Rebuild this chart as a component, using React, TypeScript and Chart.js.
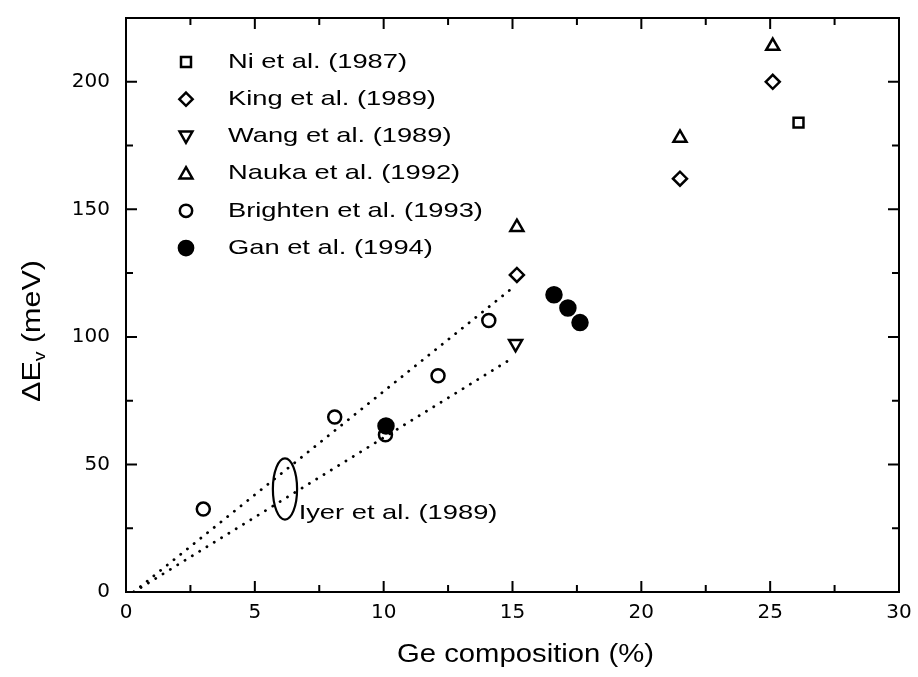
import React, { useEffect, useRef } from 'react';
import { Chart, registerables } from 'chart.js';

Chart.register(...registerables);

// ---- data ----
const xMajor = [0, 5, 10, 15, 20, 25, 30];
const xMinor = [2.5, 7.5, 12.5, 17.5, 22.5, 27.5];
const yMajor = [0, 50, 100, 150, 200];
const yMinor = [25, 75, 125, 175, 225];

const niX = [26.1];
const niY = [184];
const kingX = [15.17, 21.5, 25.1];
const kingY = [124.3, 162, 200];
const wangX = [15.12];
const wangY = [97.3];
const naukaX = [15.17, 21.5, 25.1];
const naukaY = [143, 178, 214];
const brightenX = [3.0, 8.1, 10.07, 12.11, 14.08];
const brightenY = [32.5, 68.6, 61.6, 84.8, 106.4];
const ganX = [10.09, 16.61, 17.15, 17.62];
const ganY = [65.1, 116.5, 111.3, 105.6];

const iyerUpperX = [0.3, 15.05];
const iyerUpperY = [0, 119.6];
const iyerLowerX = [0.3, 15.05];
const iyerLowerY = [0, 92];
const iyerEllipseCenter = [6.17, 40.4];
const iyerEllipseRadii = [0.47, 12];
const iyerLabel = 'Iyer et al. (1989)';
const iyerLabelPos = [6.7, 31];

const xTitle = 'Ge composition (%)';

const pts = (xs: number[], ys: number[]) => xs.map((x, i) => ({ x, y: ys[i] }));

type Series = { label: string; xs: number[]; ys: number[]; style: string; rotation: number; filled: boolean; radius: number };
const series: Series[] = [
  { label: 'Ni et al. (1987)', xs: niX, ys: niY, style: 'rect', rotation: 0, filled: false, radius: 7 },
  { label: 'King et al. (1989)', xs: kingX, ys: kingY, style: 'rectRot', rotation: 0, filled: false, radius: 7 },
  { label: 'Wang et al. (1989)', xs: wangX, ys: wangY, style: 'triangle', rotation: 180, filled: false, radius: 7.5 },
  { label: 'Nauka et al. (1992)', xs: naukaX, ys: naukaY, style: 'triangle', rotation: 0, filled: false, radius: 7.5 },
  { label: 'Brighten et al. (1993)', xs: brightenX, ys: brightenY, style: 'circle', rotation: 0, filled: false, radius: 6.5 },
  { label: 'Gan et al. (1994)', xs: ganX, ys: ganY, style: 'circle', rotation: 0, filled: true, radius: 7.5 },
];

const INK = '#000';
const TEXT_FONT = '21px "Liberation Sans", Arial, sans-serif';

function drawMarker(ctx: CanvasRenderingContext2D, s: Series, x: number, y: number, r: number) {
  ctx.save();
  ctx.translate(x, y);
  ctx.rotate((s.rotation * Math.PI) / 180);
  ctx.beginPath();
  if (s.style === 'circle') {
    ctx.arc(0, 0, r, 0, Math.PI * 2);
  } else if (s.style === 'rect') {
    const h = r * 0.75;
    ctx.rect(-h, -h, 2 * h, 2 * h);
  } else if (s.style === 'rectRot') {
    ctx.moveTo(0, -r);
    ctx.lineTo(r, 0);
    ctx.lineTo(0, r);
    ctx.lineTo(-r, 0);
    ctx.closePath();
  } else if (s.style === 'triangle') {
    const h = r * 0.9;
    ctx.moveTo(0, -h);
    ctx.lineTo(h, h * 0.75);
    ctx.lineTo(-h, h * 0.75);
    ctx.closePath();
  }
  ctx.lineWidth = 2.5;
  ctx.strokeStyle = INK;
  if (s.filled) {
    ctx.fillStyle = INK;
    ctx.fill();
  }
  ctx.stroke();
  ctx.restore();
}

function stretchedText(ctx: CanvasRenderingContext2D, text: string, x: number, y: number, sx: number, align: CanvasTextAlign, font: string) {
  ctx.save();
  ctx.translate(x, y);
  ctx.scale(sx, 1);
  ctx.font = font;
  ctx.fillStyle = INK;
  ctx.textAlign = align;
  ctx.textBaseline = 'middle';
  ctx.fillText(text, 0, 0);
  ctx.restore();
}

const decorPlugin = {
  id: 'decor',
  afterDraw(chart: any) {
    const ctx: CanvasRenderingContext2D = chart.ctx;
    const xs = chart.scales.x;
    const ys = chart.scales.y;
    const a = chart.chartArea;

    // frame
    ctx.save();
    ctx.strokeStyle = INK;
    ctx.lineWidth = 2;
    ctx.strokeRect(a.left, a.top, a.right - a.left, a.bottom - a.top);

    // inward ticks on all four sides
    const tick = (vals: number[], len: number) => {
      vals.forEach((v) => {
        const px = xs.getPixelForValue(v);
        ctx.beginPath();
        ctx.moveTo(px, a.bottom);
        ctx.lineTo(px, a.bottom - len);
        ctx.moveTo(px, a.top);
        ctx.lineTo(px, a.top + len);
        ctx.stroke();
      });
    };
    const ytick = (vals: number[], len: number) => {
      vals.forEach((v) => {
        const py = ys.getPixelForValue(v);
        ctx.beginPath();
        ctx.moveTo(a.left, py);
        ctx.lineTo(a.left + len, py);
        ctx.moveTo(a.right, py);
        ctx.lineTo(a.right - len, py);
        ctx.stroke();
      });
    };
    ctx.lineWidth = 2;
    tick(xMajor, 11);
    tick(xMinor, 7);
    ytick(yMajor, 11);
    ytick(yMinor, 7);
    ctx.restore();

    // Iyer ellipse
    const ecx = xs.getPixelForValue(iyerEllipseCenter[0]);
    const ecy = ys.getPixelForValue(iyerEllipseCenter[1]);
    const erx = Math.abs(xs.getPixelForValue(iyerEllipseCenter[0] + iyerEllipseRadii[0]) - ecx);
    const ery = Math.abs(ys.getPixelForValue(iyerEllipseCenter[1] + iyerEllipseRadii[1]) - ecy);
    ctx.save();
    ctx.beginPath();
    ctx.ellipse(ecx, ecy, erx, ery, 0, 0, Math.PI * 2);
    ctx.strokeStyle = INK;
    ctx.lineWidth = 2.2;
    ctx.stroke();
    ctx.restore();

    stretchedText(ctx, iyerLabel, xs.getPixelForValue(iyerLabelPos[0]), ys.getPixelForValue(iyerLabelPos[1]), 1.3, 'left', TEXT_FONT);

    // legend
    const lx = a.left + 60;
    const tx = a.left + 102;
    const ly0 = a.top + 44;
    const dy = 37.2;
    series.forEach((s, i) => {
      const y = ly0 + i * dy;
      drawMarker(ctx, s, lx, y, s.radius * 0.95);
      stretchedText(ctx, s.label, tx, y, 1.3, 'left', TEXT_FONT);
    });

    // x title
    stretchedText(ctx, xTitle, (a.left + a.right) / 2 + 13, 655, 1.17, 'center', '25px "Liberation Sans", Arial, sans-serif');

    // y title: ΔE_v (meV), rotated
    ctx.save();
    ctx.translate(33, 331);
    ctx.rotate(-Math.PI / 2);
    ctx.scale(1.22, 1);
    ctx.fillStyle = INK;
    ctx.textBaseline = 'middle';
    ctx.textAlign = 'left';
    const big = '25px "Liberation Sans", Arial, sans-serif';
    const small = '16px "Liberation Sans", Arial, sans-serif';
    ctx.font = big;
    const w1 = ctx.measureText('ΔE').width;
    ctx.font = small;
    const w2 = ctx.measureText('v').width;
    ctx.font = big;
    const w3 = ctx.measureText(' (meV)').width;
    const total = w1 + w2 + w3;
    let cx = -total / 2;
    ctx.fillText('ΔE', cx, 0);
    cx += w1;
    ctx.font = small;
    ctx.fillText('v', cx, 8);
    cx += w2;
    ctx.font = big;
    ctx.fillText(' (meV)', cx, 0);
    ctx.restore();
  },
};

export default function App() {
  const ref = useRef<HTMLCanvasElement | null>(null);
  useEffect(() => {
    if (!ref.current) return;
    const tickFont = { family: '"DejaVu Sans", sans-serif', size: 20 };
    const chart = new Chart(ref.current, {
      type: 'scatter',
      data: {
        datasets: [
          {
            label: 'upper',
            data: pts(iyerUpperX, iyerUpperY),
            showLine: true,
            borderColor: INK,
            borderWidth: 2.8,
            borderDash: [0.1, 8.5],
            borderCapStyle: 'round',
            pointRadius: 0,
            fill: false,
          } as any,
          {
            label: 'lower',
            data: pts(iyerLowerX, iyerLowerY),
            showLine: true,
            borderColor: INK,
            borderWidth: 2.8,
            borderDash: [0.1, 8.5],
            borderCapStyle: 'round',
            pointRadius: 0,
            fill: false,
          } as any,
          ...series.map((s) => ({
            label: s.label,
            data: pts(s.xs, s.ys),
            pointStyle: s.style,
            rotation: s.rotation,
            pointRadius: s.radius,
            pointBorderWidth: 2.5,
            borderColor: INK,
            backgroundColor: s.filled ? INK : 'rgba(255,255,255,0)',
            showLine: false,
          })),
        ],
      },
      options: {
        responsive: false,
        animation: false,
        layout: { padding: { left: 0, top: 18, right: 19, bottom: 0 } },
        plugins: { legend: { display: false }, tooltip: { enabled: false } },
        scales: {
          x: {
            type: 'linear',
            min: 0,
            max: 30,
            afterBuildTicks: (s: any) => {
              s.ticks = xMajor.map((v) => ({ value: v }));
            },
            afterFit: (s: any) => {
              s.height = 85;
              s.paddingLeft = 0;
              s.paddingRight = 0;
            },
            ticks: { color: INK, font: tickFont, padding: 9, maxRotation: 0 },
            grid: { display: true, drawOnChartArea: false, drawTicks: false },
            border: { display: true, color: INK, width: 2 },
          },
          y: {
            type: 'linear',
            min: 0,
            max: 225,
            afterBuildTicks: (s: any) => {
              s.ticks = yMajor.map((v) => ({ value: v }));
            },
            afterFit: (s: any) => {
              s.width = 126;
              s.paddingTop = 0;
              s.paddingBottom = 0;
            },
            ticks: { color: INK, font: tickFont, padding: 16 },
            grid: { display: true, drawOnChartArea: false, drawTicks: false },
            border: { display: true, color: INK, width: 2 },
          },
        },
      },
      plugins: [decorPlugin],
    } as any);
    return () => chart.destroy();
  }, []);
  return (
    <div style={{ position: 'absolute', left: 0, top: 0, width: 918, height: 677, background: '#fff' }}>
      <canvas ref={ref} width={918} height={677} style={{ display: 'block' }} />
    </div>
  );
}
